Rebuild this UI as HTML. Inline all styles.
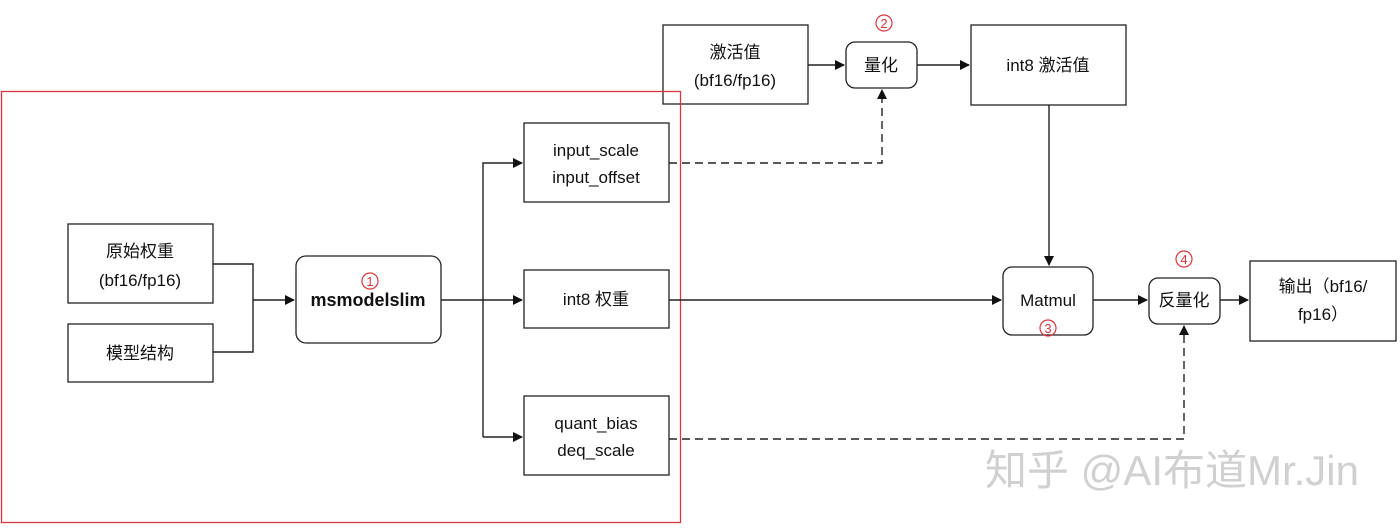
<!DOCTYPE html>
<html><head><meta charset="utf-8"><style>
html,body{margin:0;padding:0;background:#fff;}
svg{display:block;}
text{font-family:"Liberation Sans","Noto Sans CJK SC",sans-serif;fill:#111;}
</style></head><body>
<svg width="1400" height="528" viewBox="0 0 1400 528" xmlns="http://www.w3.org/2000/svg">
<defs>
<marker id="a" markerWidth="10" markerHeight="10" refX="9" refY="5" orient="auto" markerUnits="userSpaceOnUse">
<path d="M0,0 L10,5 L0,10 z" fill="#111"/></marker>
</defs>
<g fill="#fff" stroke="#222" stroke-width="1.3">
<rect x="68" y="224" width="145" height="79"/>
<rect x="68" y="324" width="145" height="58"/>
<rect x="296" y="256" width="145" height="87" rx="10"/>
<rect x="524" y="123" width="145" height="79"/>
<rect x="524" y="270" width="145" height="58"/>
<rect x="524" y="396" width="145" height="79"/>
<rect x="663" y="25" width="145" height="79"/>
<rect x="846" y="42" width="71" height="46" rx="9"/>
<rect x="971" y="25" width="155" height="80"/>
<rect x="1003" y="267" width="90" height="68" rx="9"/>
<rect x="1149" y="278" width="71" height="46" rx="9"/>
<rect x="1250" y="261" width="146" height="80"/>
</g>
<rect x="1.5" y="91.5" width="679" height="431" fill="none" stroke="#d9363e" stroke-width="1.3"/>
<g fill="none" stroke="#222" stroke-width="1.4">
<path d="M213 264 H253 V352 H213"/>
<path d="M253 300 H294" marker-end="url(#a)"/>
<path d="M441 300 H522" marker-end="url(#a)"/>
<path d="M483 437 V163 H522" marker-end="url(#a)"/>
<path d="M483 437 H522" marker-end="url(#a)"/>
<path d="M669 300 H1001" marker-end="url(#a)"/>
<path d="M808 65 H844" marker-end="url(#a)"/>
<path d="M917 65 H969" marker-end="url(#a)"/>
<path d="M1049 105 V265" marker-end="url(#a)"/>
<path d="M1093 300 H1147" marker-end="url(#a)"/>
<path d="M1220 300 H1248" marker-end="url(#a)"/>
<path d="M669 163 H882 V90" stroke-dasharray="8,5" marker-end="url(#a)"/>
<path d="M669 439 H1184 V326" stroke-dasharray="8,5" marker-end="url(#a)"/>
</g>
<g font-size="17" text-anchor="middle">
<text x="140" y="257">原始权重</text>
<text x="140" y="286">(bf16/fp16)</text>
<text x="140" y="359">模型结构</text>
<text x="368" y="306" font-weight="bold" font-size="18">msmodelslim</text>
<text x="596" y="156">input_scale</text>
<text x="596" y="183">input_offset</text>
<text x="596" y="305">int8 权重</text>
<text x="596" y="429">quant_bias</text>
<text x="596" y="456">deq_scale</text>
<text x="735" y="58">激活值</text>
<text x="735" y="86">(bf16/fp16)</text>
<text x="881" y="71">量化</text>
<text x="1048" y="71">int8 激活值</text>
<text x="1048" y="306">Matmul</text>
<text x="1184" y="306">反量化</text>
<text x="1323" y="292">输出（bf16/</text>
<text x="1323" y="320">fp16）</text>
</g>
<g fill="none" stroke="#d9363e" stroke-width="1.2">
<circle cx="370" cy="281" r="8"/><circle cx="884" cy="23" r="8"/>
<circle cx="1048" cy="328" r="8"/><circle cx="1184" cy="259" r="8"/>
</g>
<g font-size="13" text-anchor="middle">
<text x="370" y="286" style="fill:#d9363e">1</text>
<text x="884" y="28" style="fill:#d9363e">2</text>
<text x="1048" y="333" style="fill:#d9363e">3</text>
<text x="1184" y="264" style="fill:#d9363e">4</text>
</g>
<text x="985" y="485" font-size="42" style="fill:#d0d0d0">知乎 @AI布道Mr.Jin</text>
</svg>
</body></html>
